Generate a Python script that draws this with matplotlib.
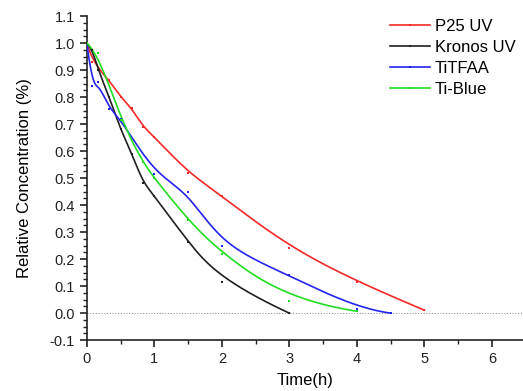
import numpy as np
import matplotlib
matplotlib.use("Agg")
import matplotlib.pyplot as plt
from matplotlib.lines import Line2D
from matplotlib.ticker import MultipleLocator

plt.rcParams['font.family'] = ['Liberation Sans', 'DejaVu Sans']

# data (time in h, relative concentration)
p25_t = [0, 0.083, 0.333, 0.5, 0.667, 0.833, 1.0, 1.5, 2, 3, 4, 5]
p25_c = [1.0, 0.93, 0.863, 0.80, 0.758, 0.69, 0.653, 0.52, 0.435, 0.24, 0.116, 0.011]

kronos_t = [0, 0.083, 0.167, 0.333, 0.5, 0.667, 0.833, 1.0, 1.5, 2, 3]
kronos_c = [1.0, 0.975, 0.90, 0.80, 0.68, 0.59, 0.483, 0.435, 0.262, 0.116, 0.0]

titfaa_t = [0, 0.083, 0.167, 0.333, 0.5, 1.0, 1.5, 2, 3, 4, 4.5]
titfaa_c = [1.0, 0.84, 0.855, 0.756, 0.72, 0.515, 0.45, 0.248, 0.141, 0.017, 0.0]

tiblue_t = [0, 0.167, 0.5, 0.833, 1.0, 1.5, 2, 3, 4]
tiblue_c = [1.0, 0.962, 0.715, 0.558, 0.50, 0.345, 0.218, 0.046, 0.007]

labels = ['P25 UV', 'Kronos UV', 'TiTFAA', 'Ti-Blue']
colors = ['#F42828', '#202020', '#2424F0', '#22DD22']


def bspline(x, y, n=300, k=3):
    """clamped B-spline using the data points as control points (Origin style)"""
    pts = np.column_stack([x, y]).astype(float)
    m = len(pts)
    kk = min(k, m - 1)
    inner = np.linspace(0, 1, m - kk + 1)
    knots = np.concatenate([np.zeros(kk), inner, np.ones(kk)])
    us = np.linspace(0, 1, n)
    out = []
    for u in us:
        # find span
        if u >= 1.0:
            s = m - 1
        else:
            s = np.searchsorted(knots, u, side='right') - 1
        d = [pts[j + s - kk].copy() for j in range(kk + 1)]
        for r in range(1, kk + 1):
            for j in range(kk, r - 1, -1):
                i = j + s - kk
                den = knots[i + kk + 1 - r] - knots[i]
                a = 0 if den == 0 else (u - knots[i]) / den
                d[j] = (1 - a) * d[j - 1] + a * d[j]
        out.append(d[kk])
    out = np.array(out)
    return out[:, 0], out[:, 1]


fig = plt.figure(figsize=(5.23, 3.91), dpi=100)
ax = fig.add_axes([0.166, 0.130, 0.834, 0.829])

series = [(p25_t, p25_c), (kronos_t, kronos_c), (titfaa_t, titfaa_c), (tiblue_t, tiblue_c)]
handles = []
for (t, c), col, lab in zip(series, colors, labels):
    bx, by = bspline(t, c)
    ax.plot(bx, by, color=col, lw=1.2, zorder=3)
    ax.plot(t, c, 's', color=col, ms=2.0, mew=0, zorder=4)
    handles.append(Line2D([], [], color=col, lw=1.2, marker='s', ms=2.0, mew=0))

ax.axhline(0, color='#999999', lw=0.8, ls=(0, (1, 1.5)), zorder=1)

ax.set_xlim(0, 6.46)
ax.set_ylim(-0.1, 1.1)
ax.xaxis.set_major_locator(MultipleLocator(1))
ax.xaxis.set_minor_locator(MultipleLocator(0.5))
ax.yaxis.set_major_locator(MultipleLocator(0.1))
ax.yaxis.set_minor_locator(MultipleLocator(0.025))
ax.yaxis.set_major_formatter(matplotlib.ticker.FormatStrFormatter('%.1f'))
for s in ['top', 'right']:
    ax.spines[s].set_visible(False)
for s in ['left', 'bottom']:
    ax.spines[s].set_linewidth(1.2)
    ax.spines[s].set_color('#222222')
ax.tick_params(which='major', direction='out', length=5, width=1.2, labelsize=10.5, colors='#222222')
ax.tick_params(which='minor', direction='out', length=3, width=1.0, colors='#222222')

ax.set_xlabel('Time(h)', fontsize=12, labelpad=5)
ax.set_ylabel('Relative Concentration (%)', fontsize=12, labelpad=13)

ax.legend(handles, labels, loc='upper left', bbox_to_anchor=(0.679, 1.012),
          frameon=False, fontsize=12, handlelength=2.4, handletextpad=0.3,
          labelspacing=0.36, borderaxespad=0)

fig.savefig('out.png', dpi=100)
